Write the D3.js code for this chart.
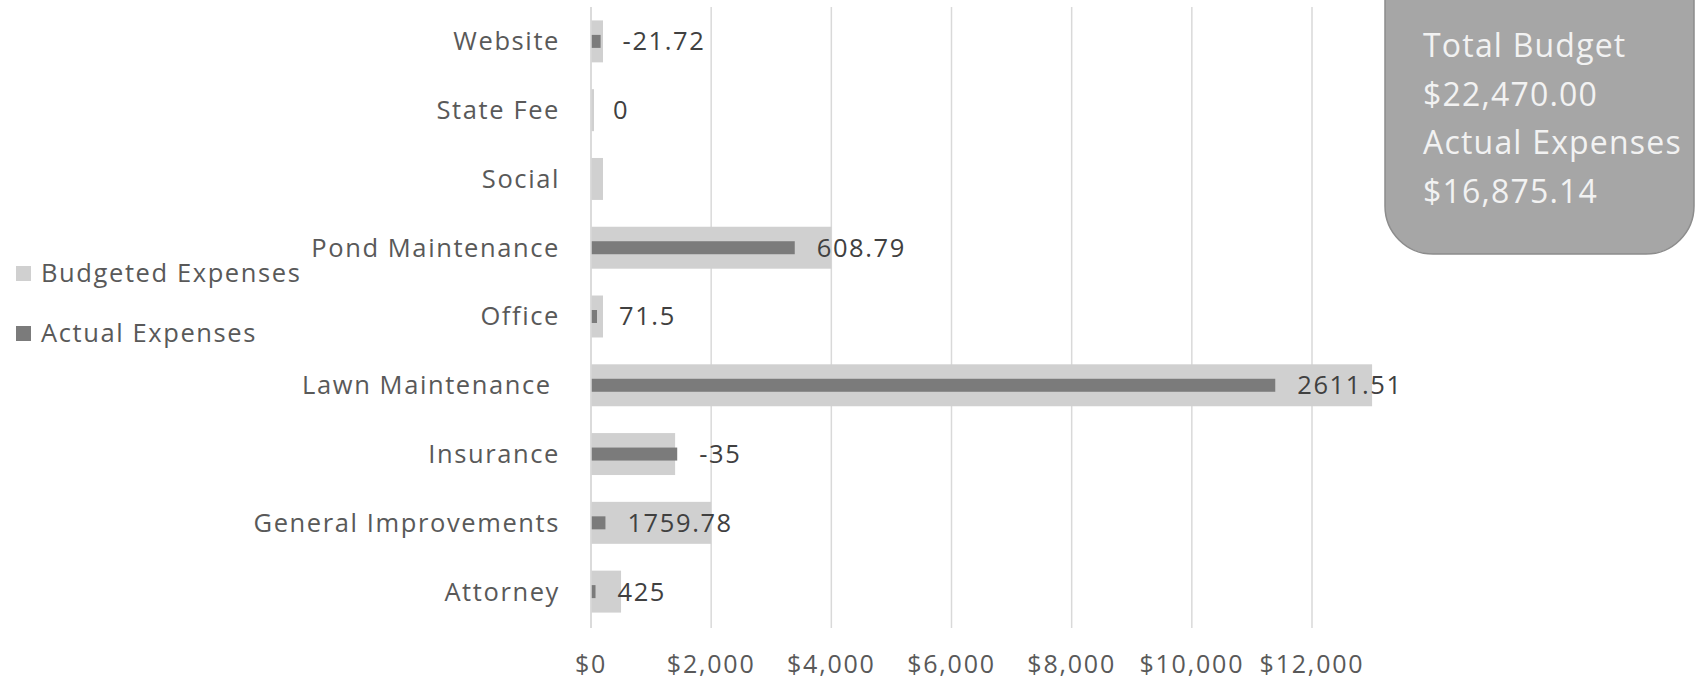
<!DOCTYPE html>
<html>
<head>
<meta charset="utf-8">
<script src="https://cdn.jsdelivr.net/npm/d3@7"></script>
<style>
  body { margin: 0; background: #fff; }
  svg { display: block; font-family: "Open Sans", sans-serif; }
  .lbl { font-size: 25.5px; letter-spacing: 1.6px; }
  .tick { font-size: 25px; letter-spacing: 1.8px; }
  .box { font-size: 32px; letter-spacing: 1.2px; }
</style>
</head>
<body>
<svg id="chart" width="1696" height="685"></svg>
<script>
// Categories, top to bottom as drawn.
var categories = ["Website", "State Fee", "Social", "Pond Maintenance", "Office",
                  "Lawn Maintenance ", "Insurance", "General Improvements", "Attorney"];

// Series values.
var budgeted = [200, 50, 200, 4000, 200, 13000, 1400, 2000, 500];
var actual   = [160, 0, 0, 3391.21, 100, 11388.49, 1435, 240.22, 75];

// Data label text shown next to each actual bar.
var dataLabels = ["-21.72", "0", "", "608.79", "71.5", "2611.51", "-35", "1759.78", "425"];

var xTicks = [0, 2000, 4000, 6000, 8000, 10000, 12000];

var summaryLines = ["Total Budget", "$22,470.00", "Actual Expenses", "$16,875.14"];
var legendItems = ["Budgeted Expenses", "Actual Expenses"];

var lightGray = "#d0d0d0", darkGray = "#7b7b7b", textColor = "#595959";

var svg = d3.select("#chart");

var x = d3.scaleLinear().domain([0, 12000]).range([591, 1312]);
var y = d3.scaleBand().domain(categories).range([7, 626]).paddingInner(0.39).paddingOuter(0.195);

// Gridlines (with the little tick below the plot).
svg.append("g")
   .selectAll("line")
   .data(xTicks)
   .enter()
   .append("line")
   .attr("x1", function(d) { return x(d); })
   .attr("x2", function(d) { return x(d); })
   .attr("y1", 7)
   .attr("y2", 628)
   .attr("stroke", "#d9d9d9")
   .attr("stroke-width", 1.5);

// Tick labels.
var fmt = d3.format(",");
svg.append("g")
   .selectAll("text")
   .data(xTicks)
   .enter()
   .append("text")
   .attr("class", "tick")
   .attr("x", function(d) { return x(d); })
   .attr("y", 664)
   .attr("dy", "0.35em")
   .attr("text-anchor", "middle")
   .attr("fill", textColor)
   .text(function(d) { return "$" + fmt(d); });

// Budgeted bars (wide, light).
svg.append("g")
   .selectAll("rect")
   .data(categories)
   .enter()
   .append("rect")
   .attr("x", x(0))
   .attr("y", function(d) { return y(d); })
   .attr("width", function(d, i) { return x(budgeted[i]) - x(0); })
   .attr("height", y.bandwidth())
   .attr("fill", lightGray);

// Actual bars (thin, dark), centred in the band.
var thin = 13;
svg.append("g")
   .selectAll("rect")
   .data(categories)
   .enter()
   .append("rect")
   .attr("x", x(0))
   .attr("y", function(d) { return y(d) + y.bandwidth() / 2 - thin / 2; })
   .attr("width", function(d, i) { return x(actual[i]) - x(0); })
   .attr("height", thin)
   .attr("fill", darkGray);

// Axis line at zero.
svg.append("line")
   .attr("x1", x(0)).attr("x2", x(0))
   .attr("y1", 7).attr("y2", 628)
   .attr("stroke", "#d9d9d9")
   .attr("stroke-width", 1.5);

// Data labels.
svg.append("g")
   .selectAll("text")
   .data(categories)
   .enter()
   .append("text")
   .attr("class", "lbl")
   .attr("x", function(d, i) { return x(actual[i]) + 22; })
   .attr("y", function(d) { return y(d) + y.bandwidth() / 2; })
   .attr("dy", "0.35em")
   .attr("fill", "#404040")
   .text(function(d, i) { return dataLabels[i]; });

// Category labels.
svg.append("g")
   .selectAll("text")
   .data(categories)
   .enter()
   .append("text")
   .attr("class", "lbl")
   .attr("x", 560)
   .attr("y", function(d) { return y(d) + y.bandwidth() / 2; })
   .attr("dy", "0.35em")
   .attr("text-anchor", "end")
   .attr("fill", textColor)
   .style("white-space", "pre")
   .text(function(d) { return d; });

// Legend.
var legend = svg.append("g")
   .selectAll("g")
   .data(legendItems)
   .enter()
   .append("g")
   .attr("transform", function(d, i) { return "translate(16," + (273 + i * 60) + ")"; });

legend.append("rect")
   .attr("x", 0).attr("y", -7)
   .attr("width", 15).attr("height", 15)
   .attr("fill", function(d, i) { return i === 0 ? lightGray : darkGray; });

legend.append("text")
   .attr("class", "lbl")
   .attr("x", 25)
   .attr("dy", "0.35em")
   .attr("fill", textColor)
   .text(function(d) { return d; });

// Summary box in the top right.
svg.append("rect")
   .attr("x", 1385).attr("y", -50)
   .attr("width", 309).attr("height", 304)
   .attr("rx", 48).attr("ry", 48)
   .attr("fill", "#a6a6a6")
   .attr("stroke", "#8c8c8c")
   .attr("stroke-width", 1.5);

svg.append("g")
   .selectAll("text")
   .data(summaryLines)
   .enter()
   .append("text")
   .attr("class", "box")
   .attr("x", 1423)
   .attr("y", function(d, i) { return 46 + i * 48.5; })
   .attr("dy", "0.35em")
   .attr("fill", "#f2f2f2")
   .text(function(d) { return d; });
</script>
</body>
</html>
